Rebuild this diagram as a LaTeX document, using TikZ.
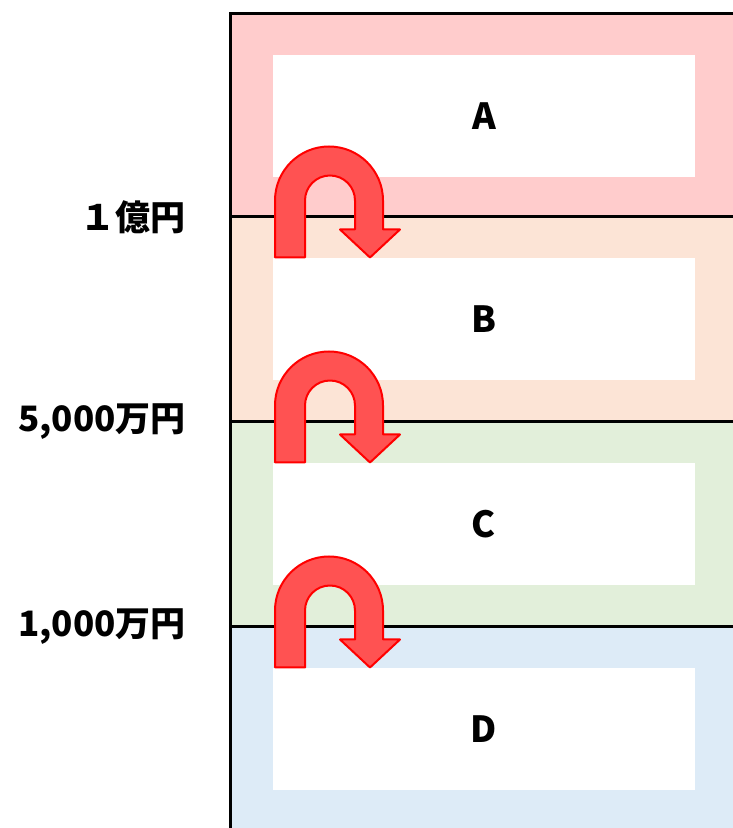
\documentclass[tikz,border=0pt]{standalone}
\usepackage{fontspec}
\setmainfont{Noto Sans CJK JP}
\usepackage{xcolor}
\usepackage{tikz}
\definecolor{BandA}{RGB}{255,204,204}
\definecolor{BandB}{RGB}{252,228,214}
\definecolor{BandC}{RGB}{226,239,218}
\definecolor{BandD}{RGB}{221,235,247}
\definecolor{Turn}{RGB}{255,82,82}
\newcommand{\TaxBand}[3]{% top colour letter
\fill[#2] (231,#1) rectangle (735,#1-209);
\node[cellbox] (cell#3) at (484,#1-102) {#3};
}
\newcommand{\UTurn}[1]{% arc centre
\draw[uturn] (275,#1-57) -- (275,#1) arc[start angle=180,end angle=0,radius=54]
  -- (383,#1-29) -- (400,#1-29) -- (370,#1-57) -- (340,#1-29) -- (355,#1-29)
  -- (355,#1) arc[start angle=0,end angle=180,radius=25] -- (305,#1-57) -- cycle;
}

\begin{document}
\begin{tikzpicture}[x=1pt,y=1pt,
  cellbox/.style={fill=white,minimum width=422pt,minimum height=122pt,inner sep=0pt,
    font=\fontsize{36}{36}\selectfont\bfseries},
  level/.style={anchor=east,inner sep=0pt,font=\fontsize{35}{35}\selectfont\bfseries},
  rule/.style={line width=3pt},
  uturn/.style={fill=Turn,draw=red,line width=2pt,line join=round}]
\useasboundingbox (0,0) rectangle (733,828);
% bands, top to bottom
\TaxBand{814}{BandA}{A}
\TaxBand{611}{BandB}{B}
\TaxBand{406}{BandC}{C}
\TaxBand{201}{BandD}{D}
% frame and borders
\draw[rule] (230.5,-5) -- (230.5,814.5) -- (735,814.5);
\foreach \yb in {611,406,201}
  \draw[rule] (230.5,\yb) -- (735,\yb);
% thresholds
\node[level] (lv1) at (186,611) {１億円};
\node[level] (lv2) at (186,406) {5,000万円};
\node[level] (lv3) at (186,201) {1,000万円};
% step-down arrows
\UTurn{627.5}
\UTurn{422.5}
\UTurn{217.5}
\end{tikzpicture}
\end{document}
